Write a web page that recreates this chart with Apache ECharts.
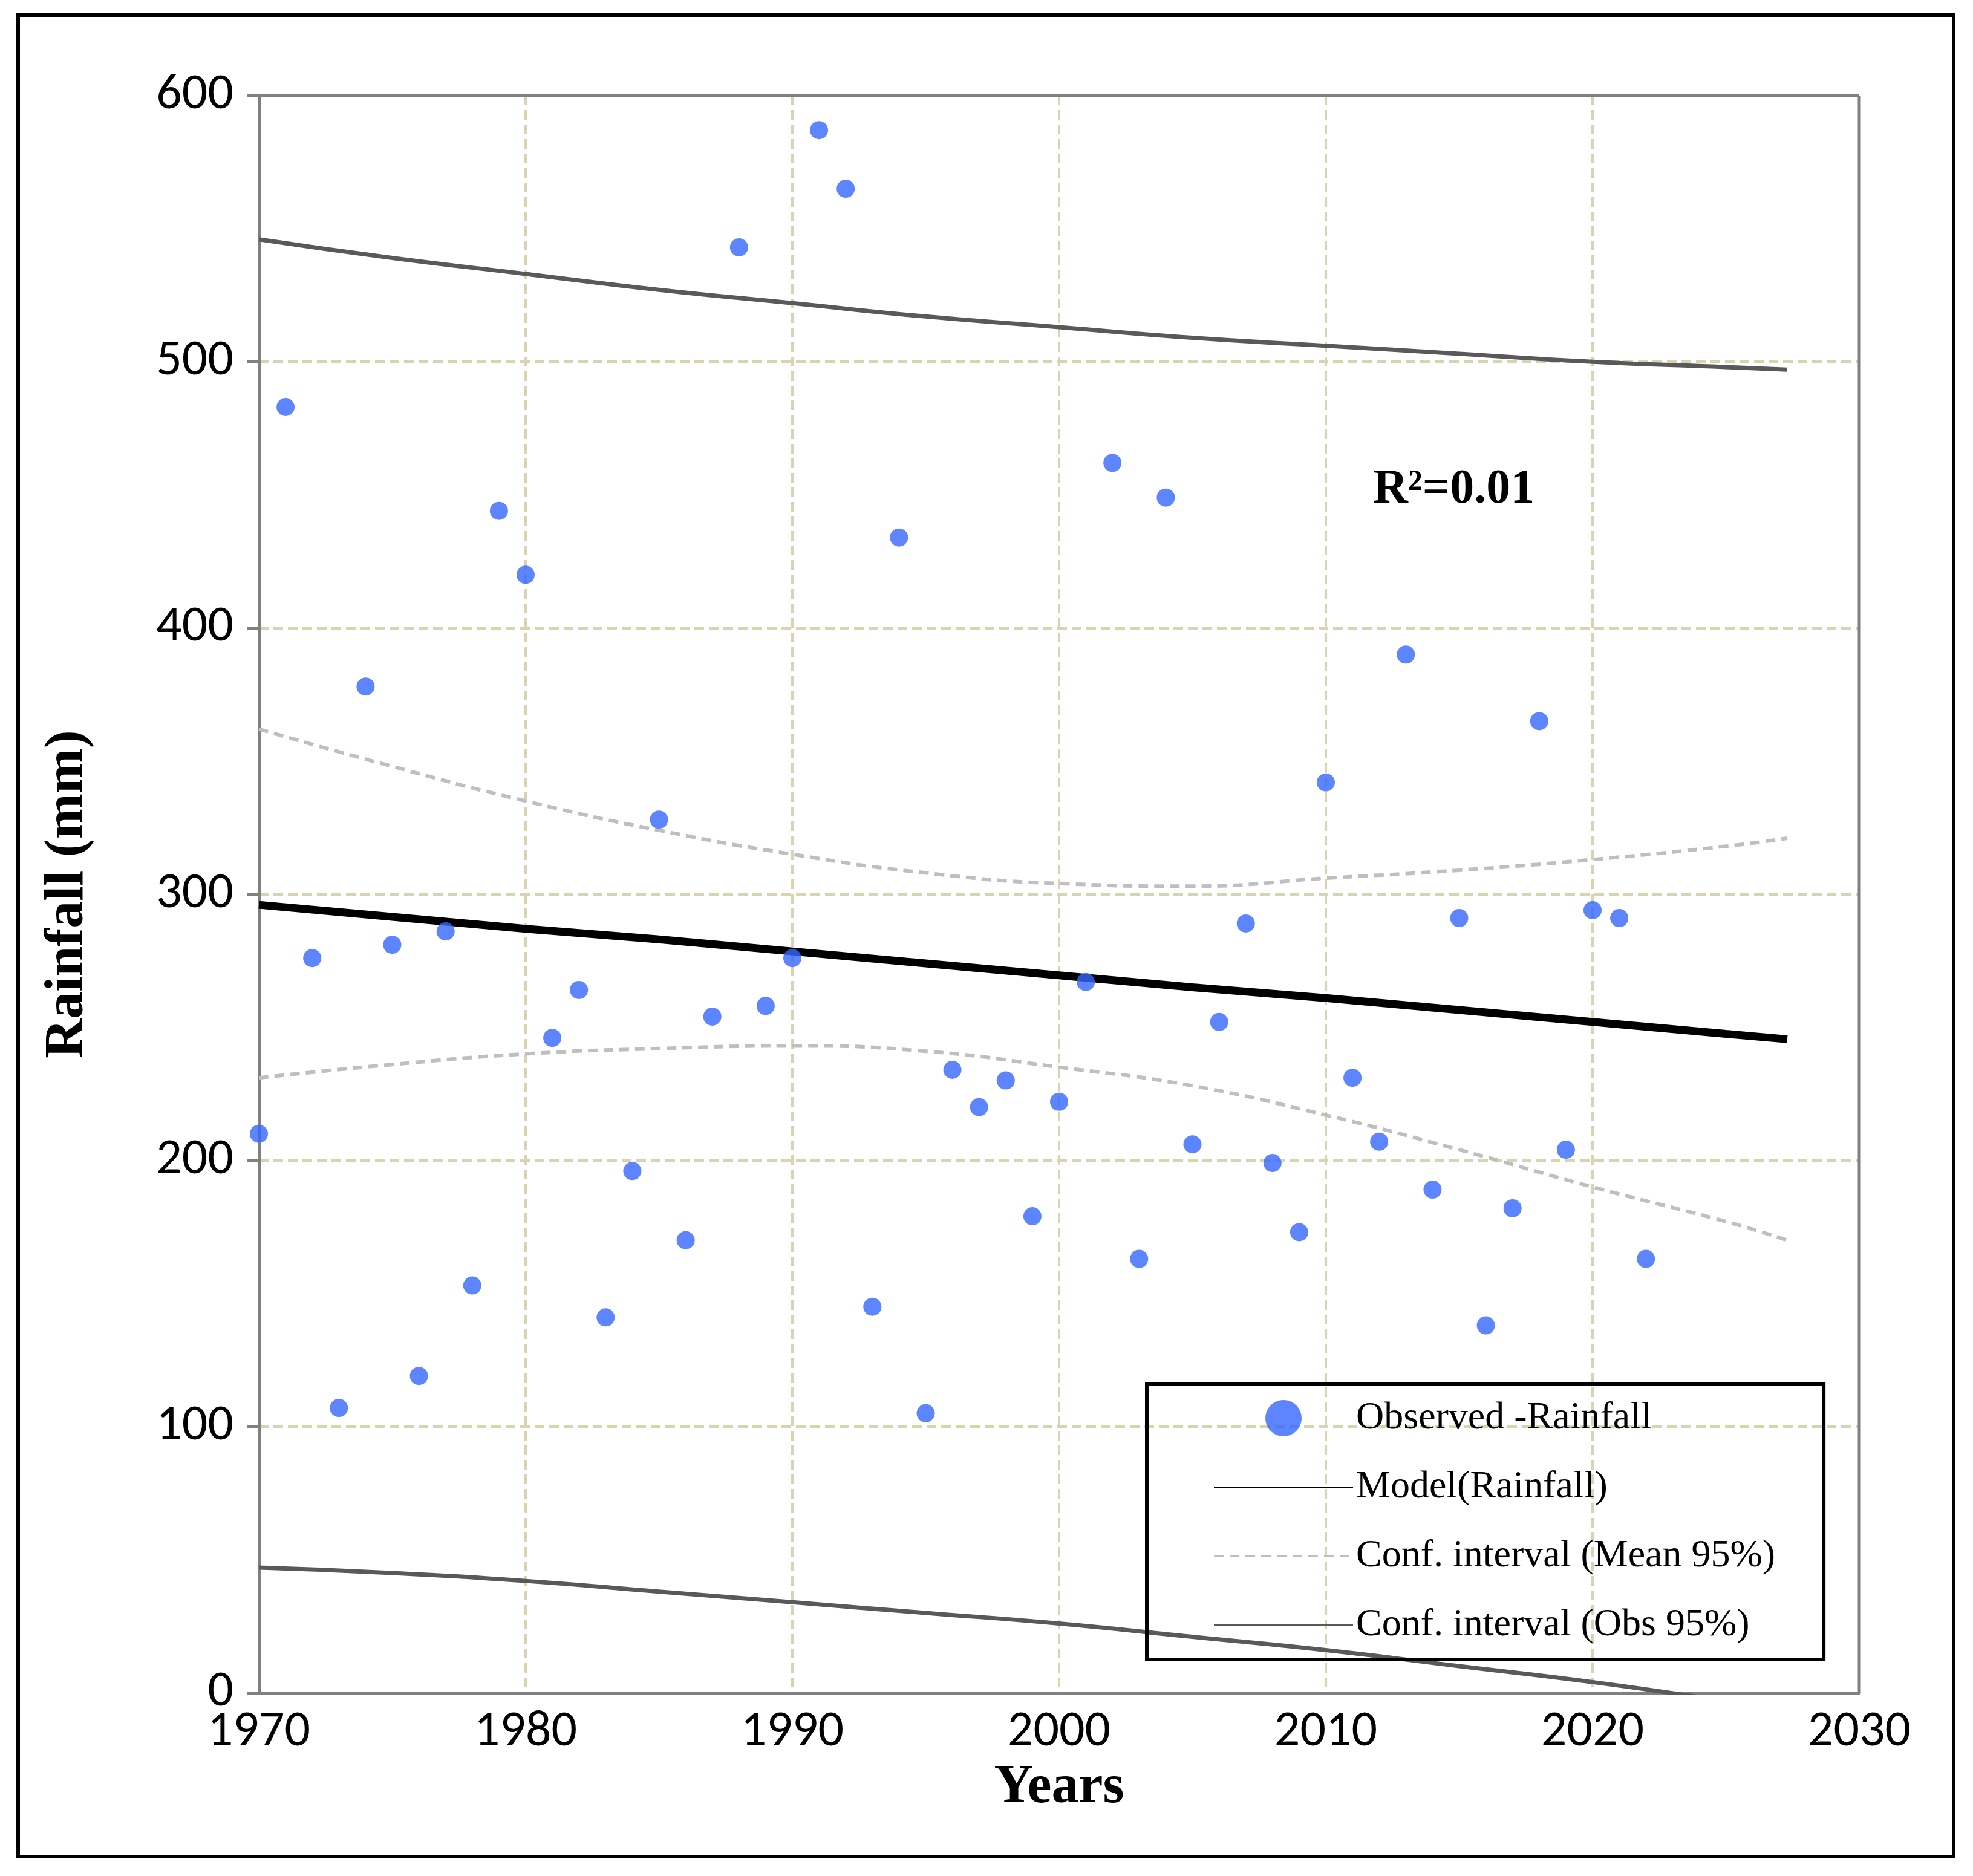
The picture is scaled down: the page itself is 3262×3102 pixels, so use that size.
<!DOCTYPE html>
<html><head><meta charset="utf-8">
<script src="https://cdn.jsdelivr.net/npm/echarts@6/dist/echarts.min.js"></script>
<style>html,body{margin:0;background:#fff}#c{width:3262px;height:3102px}</style>
</head><body><div id="c"></div>
<script>
const years = [];
for (let y = 1970; y <= 2022; y++) years.push(y);
const rainfall = [210,483,276,107,378,281,119,286,153,444,420,246,264,141,196,328,170,254,543,258,276,587,565,145,434,105,234,220,230,179,222,267,462,163,449,206,252,289,199,173,342,231,207,390,189,291,138,182,365,204,294,291,163];
const curveYears = [1970,1975,1980,1985,1990,1995,2000,2005,2010,2015,2020,2025,2027.3];
const modelLine = [296,291.5,287,283,278.5,274,269.5,265,261,256.5,252,247.5,245.5];
const meanUpper = [362,348,335,324,315,308,304,303,306,309,313,318,321];
const meanLower = [231,236,240,242,243,241,235,228,217,204,190,177,170];
const obsUpper = [546,539,533,527,522,517,513,509,506,503,500,498,497];
const obsLower = [47,45,42,38,34,30,26,21,16,10,4,-3,-6];
const pair = (xs, ys) => xs.map((x, i) => [x, ys[i]]);

const chart = echarts.init(document.getElementById('c'));
const serif = '"Liberation Serif", "Times New Roman", serif';
const sans = 'Carlito, Calibri, "Open Sans", sans-serif';
const hideSym = { opacity: 0 };
chart.setOption({
  animation: false,
  grid: { left: 428, right: 188, top: 158, bottom: 303 },
  xAxis: {
    type: 'value', min: 1970, max: 2030, interval: 10,
    name: 'Years', nameLocation: 'middle', nameGap: 110,
    nameTextStyle: { fontFamily: serif, fontWeight: 'bold', fontSize: 90, color: '#000' },
    axisLabel: { fontSize: 84, color: '#000', margin: 24, fontFamily: sans, formatter: v => String(v) },
    axisLine: { lineStyle: { color: '#808080', width: 5 } },
    axisTick: { show: false },
    splitLine: { lineStyle: { color: '#d9d3b0', type: [16, 8], width: 4 } }
  },
  yAxis: {
    type: 'value', min: 0, max: 600, interval: 100,
    name: 'Rainfall (mm)', nameLocation: 'middle', nameGap: 270,
    nameTextStyle: { fontFamily: serif, fontWeight: 'bold', fontSize: 90, color: '#000' },
    axisLabel: { fontSize: 84, color: '#000', margin: 42, fontFamily: sans },
    axisLine: { show: true, lineStyle: { color: '#808080', width: 5 } },
    axisTick: { show: true, length: 20, lineStyle: { color: '#808080', width: 5 } },
    splitLine: { lineStyle: { color: '#d9d3b0', type: [16, 8], width: 4 } }
  },
  legend: {
    orient: 'vertical', left: 1896, top: 2288,
    padding: [25, 80, 25, 110], itemGap: 50, itemWidth: 230, itemHeight: 60,
    borderColor: '#000', borderWidth: 6,
    textStyle: { fontFamily: serif, fontSize: 64, color: '#000' },
    data: [
      { name: 'Observed -Rainfall', icon: 'circle', itemStyle: { color: '#3366ff' } },
      { name: 'Model(Rainfall)', itemStyle: hideSym },
      { name: 'Conf. interval (Mean 95%)', itemStyle: hideSym },
      { name: 'Conf. interval (Obs 95%)', itemStyle: hideSym }
    ]
  },
  graphic: [
    { type: 'rect', shape: { x: 30, y: 25, width: 3200, height: 3045 }, style: { fill: null, stroke: '#000', lineWidth: 6 } },
    { type: 'line', z: 10, shape: { x1: 428, y1: 158, x2: 3074, y2: 158 }, style: { stroke: '#808080', lineWidth: 5 } },
    { type: 'line', z: 10, shape: { x1: 3074, y1: 158, x2: 3074, y2: 2799 }, style: { stroke: '#808080', lineWidth: 5 } },
    { type: 'text', left: 2270, top: 770, style: { text: 'R²=0.01', fontFamily: serif, fontWeight: 'bold', fontSize: 80, fill: '#000' } }
  ],
  series: [
    { name: 'Observed -Rainfall', type: 'scatter', data: pair(years, rainfall), symbolSize: 30, itemStyle: { color: '#3366ff' }, z: 5 },
    { name: 'Model(Rainfall)', type: 'line', data: pair(curveYears, modelLine), symbol: 'none', lineStyle: { color: '#000', width: 13 }, itemStyle: { color: '#000' } },
    { name: 'Conf. interval (Mean 95%)', type: 'line', smooth: true, data: pair(curveYears, meanUpper), symbol: 'none', lineStyle: { color: '#bfbfbf', width: 6, type: [16, 10] }, itemStyle: { color: '#bfbfbf' } },
    { name: 'Conf. interval (Mean 95%)', type: 'line', smooth: true, data: pair(curveYears, meanLower), symbol: 'none', lineStyle: { color: '#bfbfbf', width: 6, type: [16, 10] }, itemStyle: { color: '#bfbfbf' } },
    { name: 'Conf. interval (Obs 95%)', type: 'line', smooth: true, data: pair(curveYears, obsUpper), symbol: 'none', lineStyle: { color: '#595959', width: 7 }, itemStyle: { color: '#595959' } },
    { name: 'Conf. interval (Obs 95%)', type: 'line', smooth: true, data: pair(curveYears, obsLower), symbol: 'none', clip: true, lineStyle: { color: '#595959', width: 7 }, itemStyle: { color: '#595959' } }
  ]
});
</script></body></html>
